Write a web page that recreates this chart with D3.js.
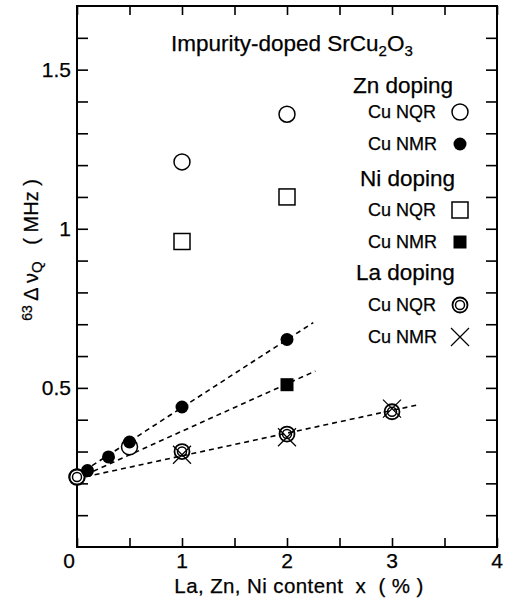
<!DOCTYPE html>
<html><head><meta charset="utf-8">
<script src="https://cdn.jsdelivr.net/npm/d3@7"></script>
<style>body{margin:0;background:#fff}svg{display:block}text{font-family:"Liberation Sans",Arial,sans-serif;fill:#000;stroke:#000;stroke-width:0.25}</style>
</head><body><svg id="c" width="514" height="605"></svg>
<script>
// Data
const znNQR = [[0,0.22],[0.5,0.315],[1,1.21],[2,1.36]];
const znNMR = [[0.1,0.24],[0.3,0.283],[0.5,0.33],[1,0.44],[2,0.652]];
const niNQR = [[1,0.96],[2,1.10]];
const niNMR = [[2,0.51]];
const laNQR = [[0,0.22],[1,0.30],[2,0.355],[3,0.425]];
const laNMR = [[1,0.29],[2,0.345],[3,0.435]];
const fitZn = [[0,0.225],[2.25,0.705]];
const fitNi = [[0,0.215],[2.27,0.553]];
const fitLa = [[0,0.215],[3.25,0.447]];
const xTickLabels = ["0","1","2","3","4"];
const yTickLabels = ["0.5","1","1.5"];

const svg = d3.select("#c");
const L=77,R=497,T=6,B=547;
const x = d3.scaleLinear().domain([0,4]).range([L,R]);
const y = d3.scaleLinear().domain([0,1.7]).range([B,T]);
const g = svg.append("g");

// frame
g.append("rect").attr("x",L).attr("y",T).attr("width",R-L).attr("height",B-T)
 .attr("fill","none").attr("stroke","#000").attr("stroke-width",2);

const xt = d3.range(0,4.01,0.5), yt = d3.range(0.1,1.65,0.1);
const axB = d3.axisBottom(x).tickValues(xt).tickSize(-9).tickFormat("");
const axT = d3.axisTop(x).tickValues(xt).tickSize(-9).tickFormat("");
const axL = d3.axisLeft(y).tickValues(yt).tickSize(-11).tickFormat("");
const axR = d3.axisRight(y).tickValues(yt).tickSize(-11).tickFormat("");
[[axB,`translate(0,${B})`],[axT,`translate(0,${T})`],[axL,`translate(${L},0)`],[axR,`translate(${R},0)`]].forEach(([a,t])=>{
  const gg=g.append("g").attr("transform",t).call(a);
  gg.select(".domain").remove();
  gg.selectAll("line").attr("stroke","#000").attr("stroke-width",1.6);
});

// tick labels
g.selectAll(".xl").data(xTickLabels).enter().append("text")
 .attr("x",(d,i)=>x(+d)+(i===0?-8:0)).attr("y",568).attr("text-anchor","middle")
 .attr("font-size",21).text(d=>d);
g.selectAll(".yl").data(yTickLabels).enter().append("text")
 .attr("x",71).attr("y",d=>y(+d)+7.5).attr("text-anchor","end")
 .attr("font-size",21).text(d=>d);

// axis titles
g.append("text").attr("x",299).attr("y",593).attr("text-anchor","middle").attr("font-size",20.5)
 .attr("letter-spacing",0.4).attr("xml:space","preserve").text("La, Zn, Ni content  x  ( % )");
const yl = g.append("text").attr("transform","translate(38,250) rotate(-90)").attr("text-anchor","middle").attr("font-size",20).attr("xml:space","preserve");
yl.append("tspan").attr("font-size",14).attr("dy",-6).text("63");
yl.append("tspan").attr("dy",6).text(" \u0394 ");
yl.append("tspan").text("\u03BD");
yl.append("tspan").attr("font-size",15).attr("dy",4).text("Q");
yl.append("tspan").attr("dy",-4).text("   ( MHz )");

// fit lines
const line = d3.line().x(d=>x(d[0])).y(d=>y(d[1]));
[fitZn,fitNi,fitLa].forEach(f=>g.append("path").attr("d",line(f)).attr("fill","none")
  .attr("stroke","#000").attr("stroke-width",1.6).attr("stroke-dasharray","5,4"));

// marker functions
function openCircle(sel,px,py){sel.append("circle").attr("cx",px).attr("cy",py).attr("r",8).attr("fill","#fff").attr("stroke","#000").attr("stroke-width",1.5);}
function fillCircle(sel,px,py){sel.append("circle").attr("cx",px).attr("cy",py).attr("r",6.5).attr("fill","#000");}
function openSquare(sel,px,py){sel.append("rect").attr("x",px-8).attr("y",py-8).attr("width",16).attr("height",16).attr("fill","#fff").attr("stroke","#000").attr("stroke-width",1.5);}
function fillSquare(sel,px,py){sel.append("rect").attr("x",px-6.5).attr("y",py-6.5).attr("width",13).attr("height",13).attr("fill","#000");}
function dblCircle(sel,px,py){sel.append("circle").attr("cx",px).attr("cy",py).attr("r",7.5).attr("fill","none").attr("stroke","#000").attr("stroke-width",1.8);
  sel.append("circle").attr("cx",px).attr("cy",py).attr("r",4.5).attr("fill","none").attr("stroke","#000").attr("stroke-width",1.5);}
function cross(sel,px,py){const s=9;sel.append("path").attr("d",`M${px-s},${py-s}L${px+s},${py+s}M${px-s},${py+s}L${px+s},${py-s}`).attr("stroke","#000").attr("stroke-width",1.2).attr("fill","none");}

const series=[[znNQR,openCircle],[niNQR,openSquare],[laNQR,dblCircle],[laNMR,cross],[niNMR,fillSquare],[znNMR,fillCircle]];
series.forEach(([data,fn])=>data.forEach(d=>fn(g,x(d[0]),y(d[1]))));

// title
const tt=g.append("text").attr("x",171).attr("y",51).attr("font-size",22.5);
tt.append("tspan").text("Impurity-doped SrCu");
tt.append("tspan").attr("font-size",15).attr("dy",5).text("2");
tt.append("tspan").attr("dy",-5).text("O");
tt.append("tspan").attr("font-size",15).attr("dy",5).text("3");

// legend
const legendHeads=[["Zn doping",353,93],["Ni doping",360,186],["La doping",356,280]];
legendHeads.forEach(h=>g.append("text").attr("x",h[1]).attr("y",h[2]).attr("font-size",22.5).text(h[0]));
const legendItems=[["Cu NQR",118,openCircle],["Cu NMR",150,fillCircle],["Cu NQR",216,openSquare],["Cu NMR",248,fillSquare],["Cu NQR",311,dblCircle],["Cu NMR",343,cross]];
legendItems.forEach(it=>{
  g.append("text").attr("x",368).attr("y",it[1]).attr("font-size",18).text(it[0]);
  it[2](g,460,it[1]-6);
});
</script></body></html>
